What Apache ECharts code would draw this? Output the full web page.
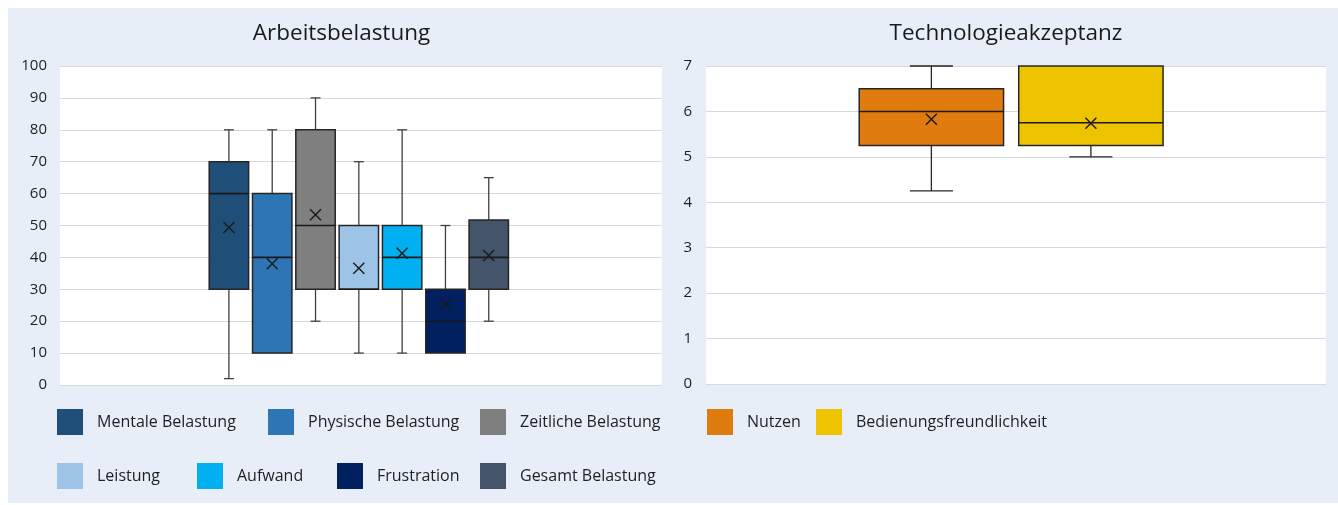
<!DOCTYPE html>
<html>
<head>
<meta charset="utf-8">
<script src="https://cdn.jsdelivr.net/npm/echarts@6/dist/echarts.min.js"></script>
<style>
html,body{margin:0;padding:0;background:#ffffff;}
#wrap{position:relative;width:1338px;height:505px;overflow:hidden;}
#panel{position:absolute;left:8px;top:8px;width:1330px;height:495px;background:#E8EEF8;}
#chart{position:absolute;left:0;top:0;width:1338px;height:505px;}
</style>
</head>
<body>
<div id="wrap"><div id="panel"></div><div id="chart"></div></div>
<script>
// ---------- Data: Arbeitsbelastung ----------
const loadTitle = 'Arbeitsbelastung';
const loadCategories = ['Mentale Belastung', 'Physische Belastung', 'Zeitliche Belastung', 'Leistung', 'Aufwand', 'Frustration', 'Gesamt Belastung'];
const loadColors = ['#1F4E79', '#2E75B6', '#7F7F7F', '#9DC3E6', '#00B0F0', '#002060', '#44546A'];
const loadMin    = [2, 10, 20, 10, 10, 10, 20];
const loadQ1     = [30, 10, 30, 30, 30, 10, 30];
const loadMedian = [60, 40, 50, 30, 40, 20, 40];
const loadQ3     = [70, 60, 80, 50, 50, 30, 51.7];
const loadMax    = [80, 80, 90, 70, 80, 50, 65];
const loadMean   = [49.4, 38, 53.4, 36.6, 41.3, 25.4, 40.6];
const loadTicks  = [0, 10, 20, 30, 40, 50, 60, 70, 80, 90, 100];

// ---------- Data: Technologieakzeptanz ----------
const techTitle = 'Technologieakzeptanz';
const techCategories = ['Nutzen', 'Bedienungsfreundlichkeit'];
const techColors = ['#E07B10', '#EEC300'];
const techMin    = [4.25, 5];
const techQ1     = [5.25, 5.25];
const techMedian = [6, 5.75];
const techQ3     = [6.5, 7];
const techMax    = [7, 7];
const techMean   = [5.83, 5.74];
const techTicks  = [0, 1, 2, 3, 4, 5, 6, 7];

const FONT = '"Open Sans", "Noto Sans", sans-serif';
const TEXT = '#1f1f1f';

function boxRenderer(boxW, capW, whiskerColor) {
  return function (params, api) {
    const x = api.value(0);
    const mn = api.value(1), q1 = api.value(2), md = api.value(3), q3 = api.value(4), mx = api.value(5), mean = api.value(6);
    const pMin = api.coord([x, mn]), pQ1 = api.coord([x, q1]), pMd = api.coord([x, md]);
    const pQ3 = api.coord([x, q3]), pMax = api.coord([x, mx]), pMean = api.coord([x, mean]);
    const half = api.size([boxW, 0])[0] / 2;
    const capHalf = api.size([capW, 0])[0] / 2;
    const cx = pMd[0];
    const wStyle = { stroke: whiskerColor, lineWidth: 1.3 };
    const ln = (x1, y1, x2, y2, st) => ({ type: 'line', shape: { x1, y1, x2, y2 }, style: st });
    const ch = [];
    if (mx > q3) {
      ch.push(ln(cx, pMax[1], cx, pQ3[1], wStyle));
      ch.push(ln(cx - capHalf, pMax[1], cx + capHalf, pMax[1], wStyle));
    }
    if (mn < q1) {
      ch.push(ln(cx, pQ1[1], cx, pMin[1], wStyle));
      ch.push(ln(cx - capHalf, pMin[1], cx + capHalf, pMin[1], wStyle));
    }
    ch.push({
      type: 'rect',
      shape: { x: cx - half, y: pQ3[1], width: half * 2, height: pQ1[1] - pQ3[1] },
      style: { fill: api.visual('color'), stroke: '#262626', lineWidth: 1.5 }
    });
    ch.push(ln(cx - half, pMd[1], cx + half, pMd[1], { stroke: '#1a1a1a', lineWidth: 1.6 }));
    const s = 5.5;
    const mStyle = { stroke: '#1a1a1a', lineWidth: 1.4 };
    ch.push(ln(cx - s, pMean[1] - s, cx + s, pMean[1] + s, mStyle));
    ch.push(ln(cx - s, pMean[1] + s, cx + s, pMean[1] - s, mStyle));
    return { type: 'group', children: ch };
  };
}

const series = [];
loadCategories.forEach((name, i) => {
  series.push({
    type: 'custom', name: name, xAxisIndex: 0, yAxisIndex: 0,
    itemStyle: { color: loadColors[i] },
    encode: { x: 0, y: [1, 2, 3, 4, 5] },
    renderItem: boxRenderer(0.91, 0.23, '#404040'),
    data: [[i, loadMin[i], loadQ1[i], loadMedian[i], loadQ3[i], loadMax[i], loadMean[i]]]
  });
});
techCategories.forEach((name, i) => {
  series.push({
    type: 'custom', name: name, xAxisIndex: 1, yAxisIndex: 1,
    itemStyle: { color: techColors[i] },
    encode: { x: 0, y: [1, 2, 3, 4, 5] },
    renderItem: boxRenderer(0.905, 0.27, '#262626'),
    data: [[i, techMin[i], techQ1[i], techMedian[i], techQ3[i], techMax[i], techMean[i]]]
  });
});

// legend positions (layout only)
const loadLegendPos = [[57, 409], [268, 409], [480, 409], [57, 463], [197, 463], [337, 463], [480, 463]];
const techLegendPos = [[707, 409], [816, 409]];
const legendBase = {
  orient: 'horizontal', padding: 0, itemWidth: 26, itemHeight: 26, icon: 'rect',
  selectedMode: false,
  textStyle: { fontFamily: FONT, fontSize: 16, color: TEXT, padding: [2, 0, 0, 9] }
};
const legends = [];
loadCategories.forEach((n, i) => legends.push(Object.assign({}, legendBase, { data: [n], left: loadLegendPos[i][0], top: loadLegendPos[i][1] })));
techCategories.forEach((n, i) => legends.push(Object.assign({}, legendBase, { data: [n], left: techLegendPos[i][0], top: techLegendPos[i][1] })));

function yAxisFor(gridIndex, ticks, margin) {
  return {
    type: 'value', gridIndex: gridIndex,
    min: ticks[0], max: ticks[ticks.length - 1], interval: ticks[1] - ticks[0],
    axisLine: { show: false }, axisTick: { show: false },
    axisLabel: { fontFamily: FONT, fontSize: 15, color: TEXT, margin: margin },
    splitLine: { show: true, lineStyle: { color: '#D9D9D9', width: 1 } }
  };
}

const chart = echarts.init(document.getElementById('chart'), null, { renderer: 'canvas' });
chart.setOption({
  animation: false,
  backgroundColor: 'transparent',
  graphic: [
    { type: 'text', style: { text: loadTitle, x: 341.5, y: 34, textAlign: 'center', textVerticalAlign: 'middle', font: '22.5px "Open Sans", sans-serif', fill: '#1a1a1a' } },
    { type: 'text', style: { text: techTitle, x: 1006, y: 34, textAlign: 'center', textVerticalAlign: 'middle', font: '22.5px "Open Sans", sans-serif', fill: '#1a1a1a' } }
  ],
  grid: [
    { left: 60, top: 66, width: 602, height: 319, show: true, backgroundColor: '#ffffff', borderWidth: 0 },
    { left: 706, top: 66, width: 620, height: 318, show: true, backgroundColor: '#ffffff', borderWidth: 0 }
  ],
  xAxis: [
    { type: 'value', gridIndex: 0, min: -3.9, max: 10.0, show: false },
    { type: 'value', gridIndex: 1, min: -1.413, max: 2.474, show: false }
  ],
  yAxis: [yAxisFor(0, loadTicks, 13), yAxisFor(1, techTicks, 14)],
  legend: legends,
  series: series
});
</script>
</body>
</html>
